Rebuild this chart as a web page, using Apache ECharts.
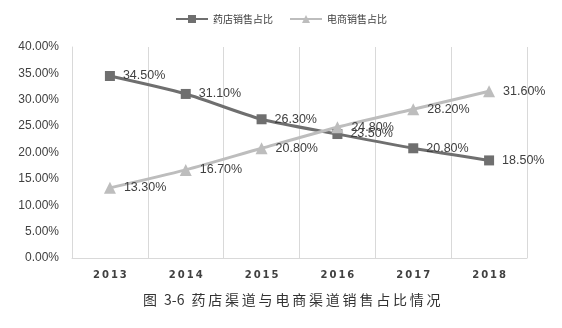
<!DOCTYPE html>
<html>
<head>
<meta charset="utf-8">
<script src="https://cdn.jsdelivr.net/npm/echarts@6/dist/echarts.min.js"></script>
<style>
  html, body { margin: 0; padding: 0; background: #fff; }
  #chart { width: 562px; height: 328px; }
</style>
</head>
<body>
<div id="chart"></div>
<script>
// Sales share by channel, 2013–2018
const years = ['2013', '2014', '2015', '2016', '2017', '2018'];
const pharmacyShare = [34.5, 31.1, 26.3, 23.5, 20.8, 18.5];
const ecommerceShare = [13.3, 16.7, 20.8, 24.8, 28.2, 31.6];
const seriesNames = ['药店销售占比', '电商销售占比'];
const captionText = '图 3-6 药店渠道与电商渠道销售占比情况';

// widen the caption a little: spaced-out CJK characters and wider word gaps
const spacedCaption = captionText
  .replace(/([\u4e00-\u9fff])(?=[\u4e00-\u9fff])/g, '$1\u2009')
  .replace(/ /g, '\u2002');

const chart = echarts.init(document.getElementById('chart'));

const pctLabel = {
  show: true,
  position: 'right',
  distance: 8,
  color: '#404040',
  fontSize: 12.5,
  fontFamily: 'Liberation Sans, Arial, sans-serif',
  formatter: p => p.value.toFixed(2) + '%'
};

chart.setOption({
  animation: false,
  backgroundColor: '#ffffff',
  title: {
    text: spacedCaption,
    left: 143,
    top: 293,
    padding: 0,
    textStyle: {
      fontSize: 14,
      fontWeight: 'normal',
      color: '#333333',
      fontFamily: 'Noto Sans CJK SC'
    }
  },
  legend: {
    top: 9,
    left: 'center',
    itemWidth: 32,
    itemHeight: 10,
    itemGap: 16,
    textStyle: { fontSize: 10, color: '#404040', fontFamily: 'Noto Sans CJK SC' },
    data: seriesNames
  },
  grid: { left: 72, right: 35, top: 47, bottom: 70 },
  xAxis: {
    type: 'category',
    data: years,
    boundaryGap: true,
    axisLine: { show: true, lineStyle: { color: '#d9d9d9' } },
    axisTick: { show: false },
    splitLine: { show: true, lineStyle: { color: '#d9d9d9', width: 1 } },
    axisLabel: {
      margin: 12,
      color: '#404040',
      fontSize: 10,
      fontWeight: 'bold',
      fontFamily: 'DejaVu Sans',
      formatter: v => v.split('').join('\u2009')
    }
  },
  yAxis: {
    type: 'value',
    min: 0,
    max: 40,
    interval: 5,
    axisLine: { show: true, lineStyle: { color: '#d9d9d9' } },
    axisTick: { show: false },
    splitLine: { show: false },
    axisLabel: {
      margin: 13,
      color: '#404040',
      fontSize: 12,
      fontFamily: 'Liberation Sans, Arial, sans-serif',
      formatter: v => v.toFixed(2) + '%'
    }
  },
  series: [
    {
      name: seriesNames[0],
      type: 'line',
      data: pharmacyShare,
      smooth: 0.25,
      symbol: 'rect',
      symbolSize: 10,
      color: '#6f6f6f',
      lineStyle: { width: 3, color: '#6f6f6f' },
      itemStyle: { color: '#6f6f6f' },
      label: pctLabel
    },
    {
      name: seriesNames[1],
      type: 'line',
      data: ecommerceShare,
      smooth: 0.25,
      symbol: 'triangle',
      symbolSize: 12,
      color: '#bdbdbd',
      lineStyle: { width: 3, color: '#bdbdbd' },
      itemStyle: { color: '#bdbdbd' },
      label: pctLabel
    }
  ]
});
</script>
</body>
</html>
